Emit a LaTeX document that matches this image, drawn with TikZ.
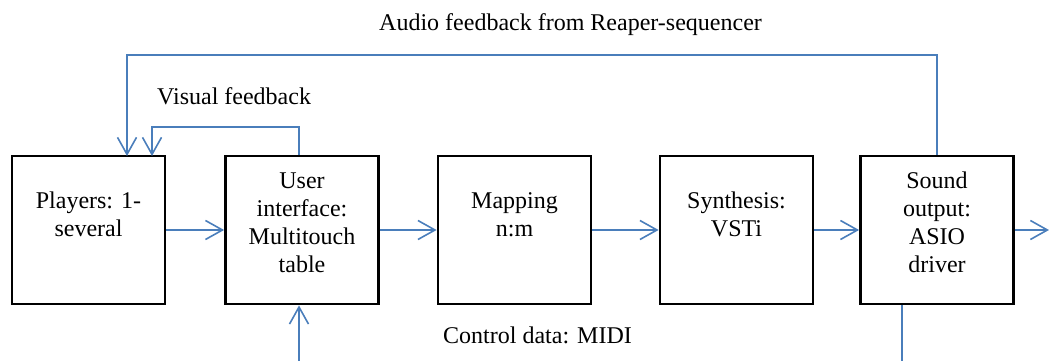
\documentclass[tikz,border=0pt]{standalone}
\usepackage{fontspec}
\setmainfont{Liberation Serif}
\usetikzlibrary{arrows.meta}
\definecolor{wblue}{RGB}{74,126,187}
\tikzset{
  blk/.style={draw=black, line width=2.8pt, minimum width=153pt, minimum height=148pt, inner sep=0pt},
  txt/.style={font=\fontsize{24}{27.7}\selectfont, align=center, inner sep=0pt, anchor=base},
  lbl/.style={font=\fontsize{24}{27.7}\selectfont, inner sep=0pt, anchor=base west},
  conn/.style={draw=wblue, line width=1.6pt, -{Straight Barb[length=17pt,width=19pt,line width=1.6pt]}},
  line/.style={draw=wblue, line width=1.6pt}
}
\begin{document}
\begin{tikzpicture}[x=1pt,y=-1pt]
\useasboundingbox (0,0) rectangle (1049,361);
% boxes
\node[blk] (p) at (88.5,230) {};
\node[blk] (u) at (302,230) {};
\node[blk] (m) at (514.5,230) {};
\node[blk] (s) at (736.5,230) {};
\node[blk] (o) at (937,230) {};
% box texts (base = last line's baseline)
\node[txt] (pt) at (88.5,236) {Players: 1-\\several};
\node[txt] (ut) at (302,272) {User\\interface:\\Multitouch\\table};
\node[txt] (mt) at (514.5,236) {Mapping\\n:m};
\node[txt] (st) at (736.5,236) {Synthesis:\\VSTi};
\node[txt] (ot) at (937,272) {Sound\\output:\\ASIO\\driver};
% labels
\node[lbl] (la) at (379,31) {Audio feedback from Reaper-sequencer};
\node[lbl] (lv) at (157,104) {Visual feedback};
\node[lbl] (lc) at (443,343) {Control data: MIDI};
% coordinates
\coordinate (outR) at (1049,230);
\coordinate (inB) at (299,361);
\coordinate (outB) at (902,361);
% connectors
\draw[conn] (p.east) -- (u.west);
\draw[conn] (u.east) -- (m.west);
\draw[conn] (m.east) -- (s.west);
\draw[conn] (s.east) -- (o.west);
\draw[conn] (o.east) -- (outR);
\draw[conn] (inB) -- (inB |- u.south);
\draw[line] (outB |- o.south) -- (outB);
\draw[conn] (o.north) ++(0,0) -- (937,55) -- (127,55) -- (127,156);
\draw[conn] (u.north -| inB) -- (299,127) -- (152,127) -- (152,156);
\end{tikzpicture}
\end{document}
